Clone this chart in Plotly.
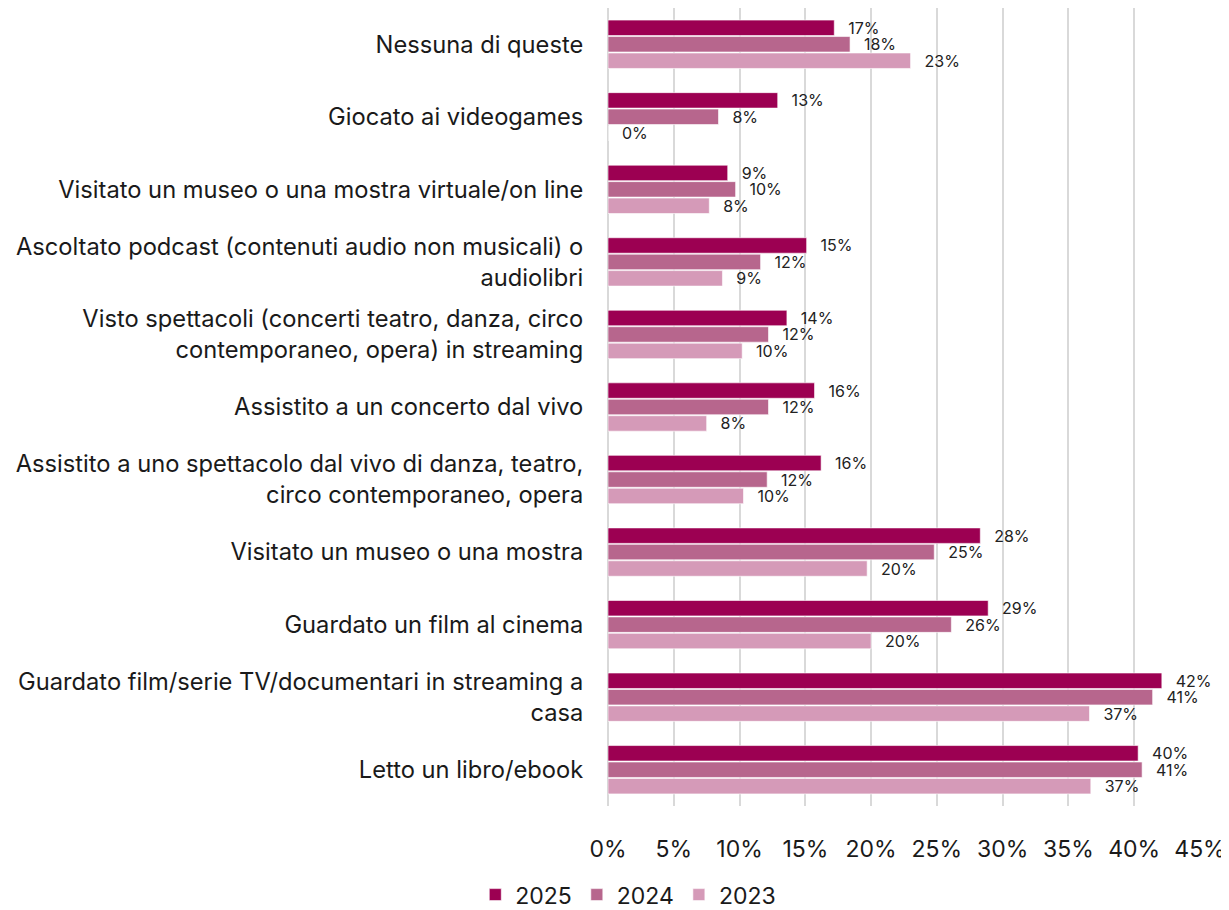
import plotly.graph_objects as go

categories = [
    "Nessuna di queste",
    "Giocato ai videogames",
    "Visitato un museo o una mostra virtuale/on line",
    "Ascoltato podcast (contenuti audio non musicali) o<br>audiolibri",
    "Visto spettacoli (concerti teatro, danza, circo<br>contemporaneo, opera) in streaming",
    "Assistito a un concerto dal vivo",
    "Assistito a uno spettacolo dal vivo di danza, teatro,<br>circo contemporaneo, opera",
    "Visitato un museo o una mostra",
    "Guardato un film al cinema",
    "Guardato film/serie TV/documentari in streaming a<br>casa",
    "Letto un libro/ebook",
]
v2025 = [17.2, 12.9, 9.1, 15.1, 13.6, 15.7, 16.2, 28.3, 28.9, 42.1, 40.3]
v2024 = [18.4, 8.4, 9.7, 11.6, 12.2, 12.2, 12.1, 24.8, 26.1, 41.4, 40.6]
v2023 = [23.0, 0.0, 7.7, 8.7, 10.2, 7.5, 10.3, 19.7, 20.0, 36.6, 36.7]
series_names = ["2025", "2024", "2023"]
colors = ["#9C0052", "#B7668D", "#D59AB8"]

fig = go.Figure()
for name, vals, col in zip(series_names, [v2025, v2024, v2023], colors):
    fig.add_trace(go.Bar(
        y=categories, x=vals, name=name, orientation="h",
        marker=dict(color=col, line=dict(color="rgba(255,255,255,0.6)", width=1)),
        texttemplate="\u2002\u2009%{x:.0f}%", textposition="outside", cliponaxis=False,
        constraintext="none",
        textfont=dict(size=16, color="#222222"),
    ))

fig.update_layout(
    width=1221, height=902,
    paper_bgcolor="white", plot_bgcolor="white",
    font=dict(family="Inter, Lato, sans-serif", color="#1a1a1a"),
    margin=dict(l=600, r=29, t=0, b=104, autoexpand=False),
    barmode="group", bargap=0.32, bargroupgap=0.06,
    showlegend=True,
    legend=dict(orientation="h", xref="container", yref="container",
                x=0.508, xanchor="center", y=0.017, yanchor="middle",
                font=dict(size=23), traceorder="normal"),
)
fig.update_xaxes(range=[0, 45], dtick=5, ticksuffix="%", showgrid=True,
                 gridcolor="#d9d9d9", gridwidth=2, zeroline=True, zerolinecolor="#d9d9d9",
                 zerolinewidth=2, tickfont=dict(size=23), ticks="outside",
                 ticklen=22, tickcolor="rgba(0,0,0,0)", showline=False, automargin=False)
fig.update_yaxes(autorange="reversed", tickfont=dict(size=23.7), ticks="outside",
                 ticklen=19, tickcolor="rgba(0,0,0,0)", showline=False, automargin=False)

fig.write_html("out.html")
